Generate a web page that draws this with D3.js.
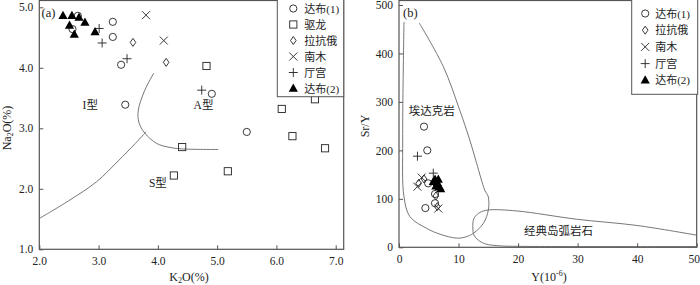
<!DOCTYPE html>
<html>
<head>
<meta charset="utf-8">
<script src="https://cdn.jsdelivr.net/npm/d3@7"></script>
<style>
  body { margin: 0; background: #fff; }
  svg text { font-family: "Liberation Serif", "Noto Sans CJK SC", serif; fill: #222; }
</style>
</head>
<body>
<svg id="chart" width="700" height="285"></svg>
<script>
// (a) K2O - Na2O
const dabu1A = [[3.24, 4.76], [3.24, 4.51], [3.38, 4.05], [3.45, 3.39], [4.91, 3.57], [5.50, 2.94], [2.56, 4.64], [2.65, 4.86]];
const qulongA = [[4.82, 4.03], [6.65, 3.48], [6.09, 3.32], [6.27, 2.87], [6.82, 2.67], [4.41, 2.69], [4.27, 2.22], [5.18, 2.29]];
const lakangeA = [[3.58, 4.42], [4.14, 4.09]];
const nanmuA = [[3.80, 4.87], [4.10, 4.45]];
const tinggongA = [[3.01, 4.65], [3.06, 4.41], [3.48, 4.15], [4.74, 3.63]];
const dabu2A = [[2.40, 4.86], [2.55, 4.86], [2.67, 4.83], [2.77, 4.75], [2.51, 4.70], [2.59, 4.55], [2.94, 4.59]];
const sLineA = [[2.0, 1.51], [2.46, 1.78], [2.97, 2.12], [3.33, 2.46], [3.62, 2.75], [3.80, 2.94]];
const iaCurveA = [[3.93, 3.91], [3.78, 3.63], [3.67, 3.30], [3.68, 3.10], [3.78, 2.92], [3.98, 2.75], [4.17, 2.69], [4.40, 2.66], [5.02, 2.65]];
const xTicksA = [2.0, 3.0, 4.0, 5.0, 6.0, 7.0];
const yTicksA = [1.0, 2.0, 3.0, 4.0, 5.0];

// (b) Y - Sr/Y
const dabu1B = [[4.2, 249], [4.75, 200], [4.43, 81], [4.9, 132], [6.05, 110], [6.05, 91]];
const lakangeB = [[3.3, 132], [4.2, 141], [6.2, 106], [6.43, 84]];
const nanmuB = [[3.09, 125], [3.8, 144], [6.6, 80]];
const tinggongB = [[3.1, 188], [5.76, 153]];
const dabu2B = [[6.05, 140], [6.43, 133], [6.77, 125], [5.76, 135], [6.6, 140], [7.0, 120], [6.2, 126]];
const adakiteB = [[3.4, 463], [7.44, 373], [10.2, 283], [11.9, 221], [13.05, 173], [14.4, 118], [15.0, 104], [15.0, 77], [14.2, 50], [12.5, 29], [11.1, 21], [9.6, 19], [6.9, 27], [4.65, 39], [1.85, 63], [0.84, 104], [0.62, 221], [0.84, 465]];
const arcB = [[50, 25], [40, 45], [29.8, 58], [19.8, 75], [15, 77], [13.6, 72], [12.6, 60], [12.4, 40], [12.6, 25], [13.3, 15], [14.5, 7], [17, 3], [20, 2], [50, 1.5]];
const xTicksB = [0, 10, 20, 30, 40, 50];
const yTicksB = [0, 100, 200, 300, 400, 500];

const svg = d3.select("#chart");
const frameColor = "#555";
const curveColor = "#777";

/** マーカーを描画する */
function drawMarker(g, kind, x, y) {
    if (kind === "circle") {
        g.append("circle").attr("cx", x).attr("cy", y).attr("r", 3.6)
            .attr("fill", "none").attr("stroke", "#222").attr("stroke-width", 0.9);
    } else if (kind === "square") {
        g.append("rect").attr("x", x - 3.6).attr("y", y - 3.6).attr("width", 7.2).attr("height", 7.2)
            .attr("fill", "none").attr("stroke", "#222").attr("stroke-width", 0.9);
    } else if (kind === "diamond") {
        g.append("path").attr("d", `M${x},${y - 4}L${x + 2.8},${y}L${x},${y + 4}L${x - 2.8},${y}Z`)
            .attr("fill", "none").attr("stroke", "#222").attr("stroke-width", 0.9);
    } else if (kind === "cross") {
        g.append("path").attr("d", `M${x - 4},${y - 4}L${x + 4},${y + 4}M${x - 4},${y + 4}L${x + 4},${y - 4}`)
            .attr("stroke", "#222").attr("stroke-width", 0.9);
    } else if (kind === "plus") {
        g.append("path").attr("d", `M${x - 4.5},${y}L${x + 4.5},${y}M${x},${y - 4.5}L${x},${y + 4.5}`)
            .attr("stroke", "#222").attr("stroke-width", 0.9);
    } else if (kind === "triangle") {
        g.append("path").attr("d", `M${x},${y - 5}L${x + 4.6},${y + 3.2}L${x - 4.6},${y + 3.2}Z`)
            .attr("fill", "#000");
    }
}

/** 一つの図を描画する */
function drawPanel(opt) {
    const g = svg.append("g");
    const x = d3.scaleLinear().domain(opt.xDomain).range(opt.xRange);
    const y = d3.scaleLinear().domain(opt.yDomain).range(opt.yRange);
    const [x0, x1] = opt.xRange;
    const [y0, y1] = opt.yRange;

    // 曲線
    const line = d3.line().x(d => x(d[0])).y(d => y(d[1])).curve(d3.curveCatmullRom.alpha(0.5));
    for (const c of opt.curves) {
        g.append("path").attr("d", line(c.pts))
            .attr("fill", "none").attr("stroke", curveColor).attr("stroke-width", 1);
    }

    // 軸（目盛りは内向き）
    const xAxis = d3.axisBottom(x).tickValues(opt.xTicks).tickFormat(opt.xFmt).tickSizeInner(-4).tickSizeOuter(0).tickPadding(8);
    const yAxis = d3.axisLeft(y).tickValues(opt.yTicks).tickFormat(opt.yFmt).tickSizeInner(-4).tickSizeOuter(0).tickPadding(6);
    const gx = g.append("g").attr("transform", `translate(0,${y0})`).call(xAxis);
    const gy = g.append("g").attr("transform", `translate(${x0},0)`).call(yAxis);
    for (const ax of [gx, gy]) {
        ax.select(".domain").remove();
        ax.selectAll("line").attr("stroke", frameColor);
        ax.selectAll("text").attr("font-size", 11.5).attr("fill", "#222")
            .style("font-family", "'Liberation Serif', serif");
    }
    if (opt.lastXShift) gx.selectAll("text").filter((d, i, n) => i === n.length - 1).attr("dx", opt.lastXShift);

    // 枠
    g.append("rect").attr("class", "frame").attr("x", x0).attr("y", 0.5).attr("width", opt.frameRight - x0).attr("height", y0 - 0.5)
        .attr("fill", "none").attr("stroke", frameColor).attr("stroke-width", 1.2);

    // データ点
    for (const s of opt.series) {
        for (const d of s.data) drawMarker(g, s.kind, x(d[0]), y(d[1]));
    }

    // 凡例
    const lg = opt.legend;
    g.append("rect").attr("x", lg.x).attr("y", -1).attr("width", lg.w).attr("height", lg.h + 1)
        .attr("fill", "#fff").attr("stroke", frameColor).attr("stroke-width", 1);
    opt.series.forEach((s, i) => {
        const yy = lg.y0 + i * lg.step;
        drawMarker(g, s.kind, lg.x + lg.mx, yy);
        g.append("text").attr("x", lg.x + lg.tx).attr("y", yy + 4).attr("font-size", 11).text(s.name);
    });

    // ラベル
    for (const t of opt.labels) {
        g.append("text").attr("x", x(t.at[0])).attr("y", y(t.at[1])).attr("text-anchor", "middle")
            .attr("font-size", 11.5).text(t.text);
    }
}

drawPanel({
    xDomain: [2, 7], xRange: [39.3, 335.7], yDomain: [1, 5], yRange: [249.3, 7.3], frameRight: 343.7,
    xTicks: xTicksA, yTicks: yTicksA, xFmt: d3.format(".1f"), yFmt: d3.format(".1f"),
    curves: [{ pts: sLineA }, { pts: iaCurveA }],
    series: [
        { name: "达布(1)", kind: "circle", data: dabu1A },
        { name: "驱龙", kind: "square", data: qulongA },
        { name: "拉抗俄", kind: "diamond", data: lakangeA },
        { name: "南木", kind: "cross", data: nanmuA },
        { name: "厅宫", kind: "plus", data: tinggongA },
        { name: "达布(2)", kind: "triangle", data: dabu2A }
    ],
    legend: { x: 277.3, w: 66.4, h: 96.7, y0: 8.5, step: 16, mx: 16, tx: 27 },
    labels: [
        { text: "I型", at: [2.86, 3.32] },
        { text: "A型", at: [4.77, 3.32] },
        { text: "S型", at: [4.0, 2.03] }
    ]
});

drawPanel({
    xDomain: [0, 50], xRange: [399, 696.7], yDomain: [0, 500], yRange: [247.3, 5], frameRight: 696.7,
    xTicks: xTicksB, yTicks: yTicksB, xFmt: d3.format("d"), yFmt: d3.format("d"), lastXShift: -3,
    curves: [{ pts: adakiteB }, { pts: arcB }],
    series: [
        { name: "达布(1)", kind: "circle", data: dabu1B },
        { name: "拉抗俄", kind: "diamond", data: lakangeB },
        { name: "南木", kind: "cross", data: nanmuB },
        { name: "厅宫", kind: "plus", data: tinggongB },
        { name: "达布(2)", kind: "triangle", data: dabu2B }
    ],
    legend: { x: 631.7, w: 66, h: 94.3, y0: 13.5, step: 16.7, mx: 13.5, tx: 23.5 },
    labels: [
        { text: "埃达克岩", at: [5.5, 272] },
        { text: "经典岛弧岩石", at: [26.8, 25] }
    ]
});

// パネル記号
svg.append("text").attr("x", 41.5).attr("y", 17).attr("font-size", 12.5).text("(a)");
svg.append("text").attr("x", 403).attr("y", 17).attr("font-size", 12.5).text("(b)");

// 軸タイトル
const xt1 = svg.append("text").attr("x", 189).attr("y", 281).attr("text-anchor", "middle").attr("font-size", 12);
xt1.append("tspan").text("K");
xt1.append("tspan").attr("font-size", 8).attr("dy", 2).text("2");
xt1.append("tspan").attr("dy", -2).text("O(%)");

const yt1 = svg.append("text").attr("transform", "translate(11,128) rotate(-90)").attr("text-anchor", "middle").attr("font-size", 12);
yt1.append("tspan").text("Na");
yt1.append("tspan").attr("font-size", 8).attr("dy", 2).text("2");
yt1.append("tspan").attr("dy", -2).text("O(%)");

const xt2 = svg.append("text").attr("x", 549).attr("y", 281).attr("text-anchor", "middle").attr("font-size", 12);
xt2.append("tspan").text("Y(10");
xt2.append("tspan").attr("font-size", 8).attr("dy", -5).text("-6");
xt2.append("tspan").attr("dy", 5).text(")");

svg.append("text").attr("transform", "translate(369,126) rotate(-90)").attr("text-anchor", "middle").attr("font-size", 12).text("Sr/Y");
</script>
</body>
</html>
